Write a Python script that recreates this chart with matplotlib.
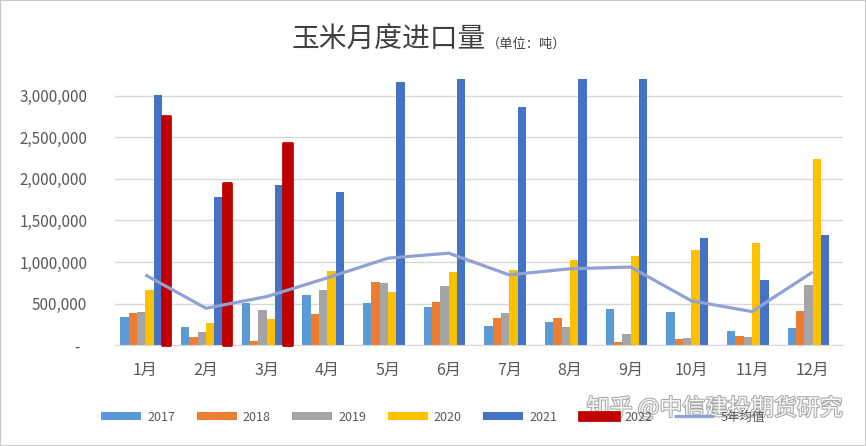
import numpy as np
import matplotlib
matplotlib.use("Agg")
import matplotlib.pyplot as plt
import matplotlib.patheffects as pe
from matplotlib.patches import Rectangle
from matplotlib.ticker import FuncFormatter, MultipleLocator

plt.rcParams["font.family"] = ["Noto Sans CJK SC", "DejaVu Sans"]

# data (tonnes)
months = ["1月", "2月", "3月", "4月", "5月", "6月", "7月", "8月", "9月", "10月", "11月", "12月"]
years = ["2017", "2018", "2019", "2020", "2021", "2022"]
y2017 = [340000, 220000, 510000, 600000, 510000, 460000, 235000, 280000, 440000, 405000, 170000, 210000]
y2018 = [390000, 100000, 55000, 380000, 765000, 520000, 330000, 330000, 40000, 75000, 110000, 410000]
y2019 = [400000, 160000, 420000, 660000, 750000, 710000, 390000, 220000, 135000, 90000, 100000, 725000]
y2020 = [660000, 270000, 320000, 890000, 640000, 880000, 910000, 1020000, 1075000, 1140000, 1230000, 2240000]
y2021 = [3010000, 1780000, 1930000, 1845000, 3160000, 3610000, 2860000, 3260000, 3550000, 1290000, 785000, 1330000]
y2022 = [2760000, 1950000, 2430000]
avg5 = [846000, 445000, 585000, 810000, 1047000, 1107000, 846000, 920000, 940000, 535000, 405000, 880000]
avg_label = "5年均值"

colors = ["#5B9BD5", "#ED7D31", "#A5A5A5", "#FFC000", "#4472C4", "#C00000"]

fig = plt.figure(figsize=(8.66, 4.46), dpi=100)
ax = fig.add_axes([0.1328, 0.2258, 0.8406, 0.5971])

x = np.arange(len(months))
w = 0.137
series = [y2017, y2018, y2019, y2020, y2021, y2022]
handles = []
for k, (vals, col, lab) in enumerate(zip(series, colors, years)):
    xs = x[:len(vals)] + (k - 2.5) * w
    if lab == "2022":
        # 2022 bars have a thick rounded outline in the original
        b = ax.bar(xs, vals, width=w, color=col, edgecolor=col, linewidth=2,
                   joinstyle="round", label=lab, zorder=3, clip_on=False)
    else:
        b = ax.bar(xs, vals, width=w, color=col, linewidth=0, label=lab, zorder=2)
    handles.append(b)

ln, = ax.plot(x, avg5, color="#8FA2D4", lw=2.3, label=avg_label, zorder=4,
              solid_capstyle="butt")
handles.append(ln)

ax.set_xlim(-0.5, len(months) - 0.5)
ax.set_ylim(0, 3200000)
ax.yaxis.set_major_locator(MultipleLocator(500000))
ax.yaxis.set_major_formatter(FuncFormatter(lambda v, p: "-  " if v == 0 else f"{v:,.0f}"))
ax.grid(axis="y", color="#D9D9D9", lw=1, zorder=0)
ax.set_axisbelow(True)
for s in ["top", "right", "left"]:
    ax.spines[s].set_visible(False)
ax.spines["bottom"].set_color("#D9D9D9")
ax.tick_params(length=0)
ax.tick_params(axis="y", labelsize=11, labelcolor="#595959", pad=20)
ax.set_xticks(x)
ax.set_xticklabels(months)
ax.tick_params(axis="x", labelsize=11.5, labelcolor="#595959", pad=12)

# title in two sizes
fig.text(486 / 866, 1 - 48 / 446, "玉米月度进口量", fontsize=20, color="#404040",
         ha="right", va="baseline")
fig.text(487 / 866, 1 - 48 / 446, "（单位：吨）", fontsize=9.5, color="#404040",
         ha="left", va="baseline")

fig.legend(handles=handles, labels=years + [avg_label], loc="center",
           bbox_to_anchor=(0.5, 0.065), ncol=7, frameon=False, fontsize=9,
           handlelength=3.2, handleheight=0.6, handletextpad=0.5,
           columnspacing=1.7, labelcolor="#595959")

# watermark over the legend, as in the original
fig.text(0.825, 1 - 408 / 446, "知乎 @中信建投期货研究", fontsize=16.5, color="white",
         ha="center", va="center", alpha=0.9,
         path_effects=[pe.withStroke(linewidth=1.5, foreground="#A0A0A0")])

fig.patches.append(Rectangle((0, 0), 1, 1, transform=fig.transFigure, fill=False,
                             edgecolor="#C8C8C8", lw=1.5))

fig.savefig("out.png", dpi=100)
